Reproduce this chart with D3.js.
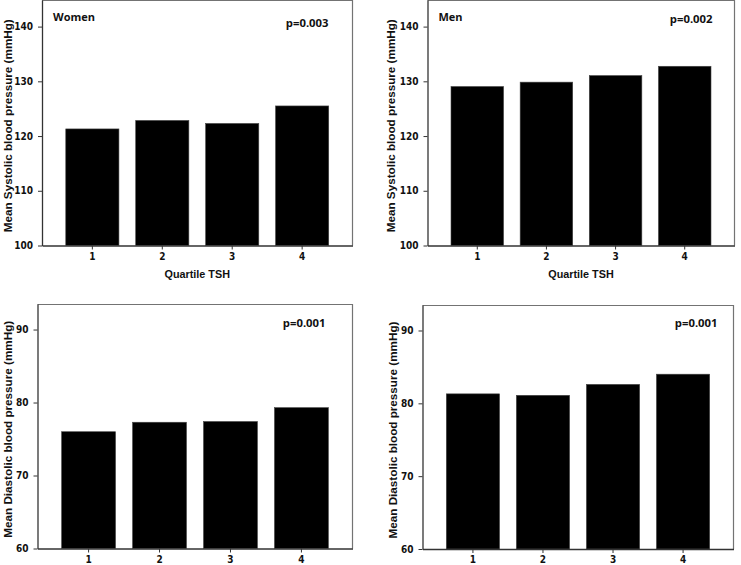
<!DOCTYPE html>
<html>
<head>
<meta charset="utf-8">
<script src="https://cdn.jsdelivr.net/npm/d3@7"></script>
<style>
  html, body { margin: 0; padding: 0; background: #fff; }
  svg { display: block; }
</style>
</head>
<body>
<svg id="chart" width="741" height="565"></svg>
<script>
const quartiles = ["1", "2", "3", "4"];
const womenSystolic = [121.3, 122.85, 122.3, 125.5];
const menSystolic = [129.05, 129.85, 131.05, 132.75];
const womenDiastolic = [76.0, 77.3, 77.4, 79.3];
const menDiastolic = [81.3, 81.1, 82.6, 84.0];
const systolicTicks = [100, 110, 120, 130, 140];
const diastolicTicks = [60, 70, 80, 90];
const panelLabels = ["Women", "Men", "", ""];
const pValues = ["p=0.003", "p=0.002", "p=0.001", "p=0.001"];
const systolicTitle = "Mean Systolic blood pressure (mmHg)";
const diastolicTitle = "Mean Diastolic blood pressure (mmHg)";
const xTitle = "Quartile TSH";

const panels = [
  { values: womenSystolic, ticks: systolicTicks, domain: [100, 144.86], x0: 42, x1: 352.5, yb: 245.5, yt: 0,
    ytitle: systolicTitle, ytx: 7.5, label: panelLabels[0], p: pValues[0], px: 328.5, py: 27, xt: true },
  { values: menSystolic, ticks: systolicTicks, domain: [100, 144.86], x0: 427.5, x1: 734.5, yb: 245.5, yt: 0,
    ytitle: systolicTitle, ytx: 390, label: panelLabels[1], p: pValues[1], px: 712.5, py: 23, xt: true },
  { values: womenDiastolic, ticks: diastolicTicks, domain: [60, 93.5], x0: 37.5, x1: 352.5, yb: 548.5, yt: 304,
    ytitle: diastolicTitle, ytx: 7.5, label: panelLabels[2], p: pValues[2], px: 325.5, py: 327, xt: false },
  { values: menDiastolic, ticks: diastolicTicks, domain: [60, 93.5], x0: 422.5, x1: 733.5, yb: 549, yt: 305,
    ytitle: diastolicTitle, ytx: 392, label: panelLabels[3], p: pValues[3], px: 717.5, py: 327, xt: false }
];

const svg = d3.select("#chart");
const tickFont = "'Liberation Sans Narrow', 'DejaVu Sans Condensed', Arial, sans-serif";
const titleFont = "'Liberation Sans', Arial, sans-serif";
const labelFont = "'Open Sans', 'Liberation Sans', sans-serif";

panels.forEach(pn => {
  const g = svg.append("g");
  const x = d3.scaleBand().domain(quartiles).range([pn.x0, pn.x1]).paddingInner(0.24).paddingOuter(0.34);
  const y = d3.scaleLinear().domain(pn.domain).range([pn.yb, pn.yt]);

  // frame (top and right)
  g.append("path")
    .attr("d", `M${pn.x0},${pn.yt + 0.5}H${pn.x1}V${pn.yb}`)
    .attr("fill", "none").attr("stroke", "#737373").attr("stroke-width", 1.2);

  // bars
  g.selectAll("rect.bar").data(pn.values).enter().append("rect")
    .attr("class", "bar")
    .attr("x", (d, i) => x(quartiles[i]))
    .attr("width", x.bandwidth())
    .attr("y", d => y(d))
    .attr("height", d => y(pn.domain[0]) - y(d))
    .attr("fill", "#000")
    .attr("stroke", "#444").attr("stroke-width", 0.6);

  // y axis
  const ya = g.append("g").attr("transform", `translate(${pn.x0},0)`)
    .call(d3.axisLeft(y).tickValues(pn.ticks).tickSize(4).tickPadding(5).tickSizeOuter(0));
  ya.select(".domain").attr("stroke", "#333").attr("stroke-width", 1.3);
  ya.selectAll(".tick line").attr("stroke", "#333");
  ya.selectAll(".tick text").attr("font-family", tickFont).attr("font-weight", "bold")
    .attr("font-size", 10).attr("fill", "#111");

  // x axis
  const xa = g.append("g").attr("transform", `translate(0,${pn.yb})`)
    .call(d3.axisBottom(x).tickSize(4).tickPadding(3).tickSizeOuter(0));
  xa.select(".domain").attr("stroke", "#333").attr("stroke-width", 1.3);
  xa.selectAll(".tick line").attr("stroke", "#333");
  xa.selectAll(".tick text").attr("font-family", tickFont).attr("font-weight", "bold")
    .attr("font-size", 10).attr("fill", "#111");

  // y title
  g.append("text")
    .attr("transform", `translate(${pn.ytx},${(pn.yt + pn.yb) / 2 + 3}) rotate(-90)`)
    .attr("text-anchor", "middle").attr("dominant-baseline", "central")
    .attr("font-family", titleFont).attr("font-weight", "bold").attr("font-size", 11.7)
    .attr("fill", "#111").text(pn.ytitle);

  // x title
  if (pn.xt) {
    g.append("text")
      .attr("x", (pn.x0 + pn.x1) / 2).attr("y", pn.yb + 32)
      .attr("text-anchor", "middle")
      .attr("font-family", titleFont).attr("font-weight", "bold").attr("font-size", 10.8)
      .attr("fill", "#111").text(xTitle);
  }

  // panel label
  if (pn.label) {
    g.append("text")
      .attr("x", pn.x0 + 11).attr("y", pn.yt + 21)
      .attr("font-family", labelFont).attr("font-weight", "bold").attr("font-size", 11)
      .attr("fill", "#111").text(pn.label);
  }

  // p-value
  g.append("text")
    .attr("x", pn.px).attr("y", pn.py)
    .attr("text-anchor", "end")
    .attr("font-family", labelFont).attr("font-weight", "bold").attr("font-size", 11.3)
    .attr("fill", "#111").text(pn.p);
});
</script>
</body>
</html>
